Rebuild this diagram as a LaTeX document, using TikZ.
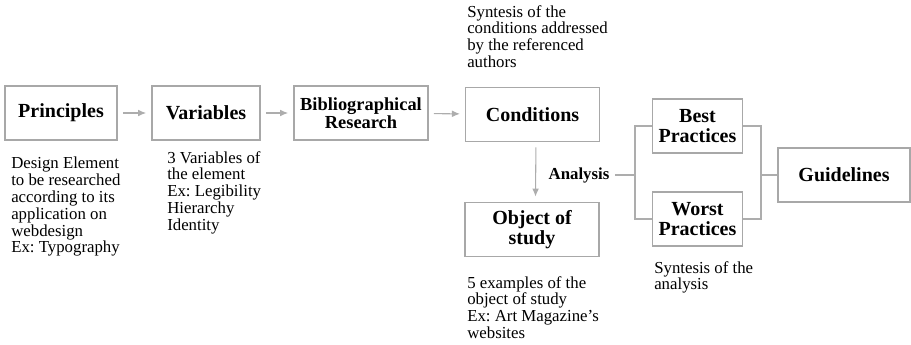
\documentclass[tikz,border=0pt]{standalone}
\usepackage{fontspec}
\setmainfont{Liberation Serif}
\frenchspacing
\usetikzlibrary{arrows.meta}
\definecolor{boxgray}{HTML}{A8A8A8}
\definecolor{linegray}{HTML}{ADADAD}
\tikzset{
    stagebox/.style={draw=boxgray, line width=0.8pt, align=center, inner sep=0pt,
        minimum height=40.5pt, font=\fontsize{15}{15.5}\selectfont\bfseries},
    note/.style={anchor=north west, inner sep=0pt, align=left,
        font=\fontsize{12.6}{12.6}\selectfont},
    flow/.style={draw=linegray, line width=0.8pt, -{Latex[length=6pt,width=5pt]},
        shorten >=4pt, shorten <=4pt},
    link/.style={draw=linegray, line width=0.8pt},
}

\begin{document}
\begin{tikzpicture}[x=0.75pt, y=-0.75pt]
            \useasboundingbox (0,0) rectangle (911,344);
            \node[stagebox, minimum width=84pt] (principles) at (61,113) {Principles};
            \node[stagebox, minimum width=81pt] (variables) at (206,113) {Variables};
            \node[stagebox, minimum width=100.5pt, font=\fontsize{13.8}{13.7}\selectfont\bfseries] (research) at (361,113) {Bibliographical\\Research};
            \node[stagebox, minimum width=100pt] (conditions) at (532.5,114.5) {Conditions};
            \node[stagebox, minimum width=100.5pt] (object) at (532,229.5) {Object of\\study};
            \node[stagebox, minimum width=67pt] (best) at (697.5,126) {Best\\Practices};
            \node[stagebox, minimum width=67pt] (worst) at (697.5,219) {Worst\\Practices};
            \node[stagebox, minimum width=99pt] (guidelines) at (844,175) {Guidelines};
            \node[inner sep=0pt, font=\fontsize{12.6}{14}\selectfont\bfseries] (analysis) at (579,175) {Analysis};
            \coordinate (split) at (635,175);
            \coordinate (join) at (761,175);

            \draw[flow] (principles) -- (variables);
            \draw[flow] (variables) -- (research);
            \draw[flow] (research) -- (conditions);
            \draw[flow] ([xshift=2.6pt]conditions.south) -- ([xshift=2.6pt]object.north);
            \draw[link] ([xshift=4pt]analysis.east) -- (split);
            \draw[link] (best.west) -| (split) |- (worst.west);
            \draw[link] (best.east) -| (join) |- (worst.east);
            \draw[link] (join) -- (guidelines);

            \node[note] (principlesnote) at (11,157) {Design Element\\to be researched\\according to its\\application on\\webdesign\\Ex: Typography};
            \node[note] (variablesnote) at (167,151) {3 Variables of\\the element\\Ex: Legibility\\Hierarchy\\Identity};
            \node[note] (conditionsnote) at (467,5) {Syntesis of the\\conditions addressed\\by the referenced\\authors};
            \node[note] (objectnote) at (467,276) {5 examples of the\\object of study\\Ex: Art Magazine’s\\websites};
            \node[note] (worstnote) at (654,261) {Syntesis of the\\analysis};
        \end{tikzpicture}
\end{document}
